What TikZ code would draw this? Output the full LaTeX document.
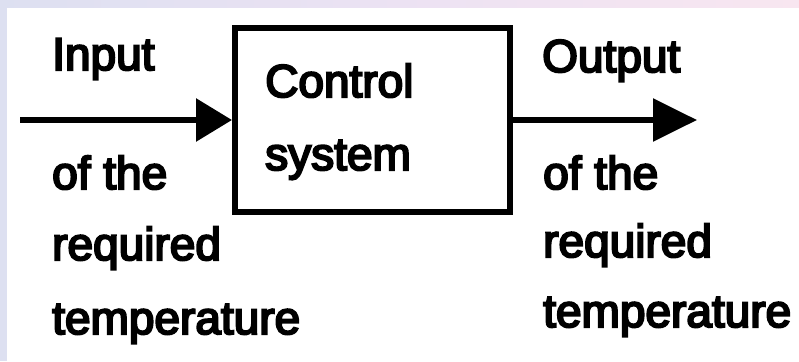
\documentclass[tikz,border=0pt]{standalone}
\usepackage{fontspec}
% slightly heavier sans for the labels
\font\labelfont="Liberation Sans:embolden=4.5" at 46pt
\usetikzlibrary{arrows.meta}

\definecolor{frameblue}{HTML}{DDE0F1}
\definecolor{framelilac}{HTML}{ECE2F3}
\definecolor{framepink}{HTML}{F8E6F0}

\tikzset{
  lbl/.style={anchor=base west, inner sep=0pt, font=\labelfont},
  blockbox/.style={draw, line width=6pt, minimum width=275pt, minimum height=184pt, inner sep=0pt},
  flow/.style={line width=6pt, -{Triangle[length=#1, width=42pt]}},
}

\begin{document}
\begin{tikzpicture}[x=1pt, y=-1pt]
  \useasboundingbox (0,0) rectangle (799,361);
  % page frame: tinted strips along the top and left edges
  \fill[frameblue] (0,0) rectangle (799,361);
  \shade[left color=frameblue, right color=framepink, middle color=framelilac] (0,0) rectangle (799,8);
  \fill[white] (7,8) rectangle (799,361);

  % the block
  \node[blockbox] (box) at (372.5,120) {};
  \node[lbl] (ctrl) at (265,97) {Control};
  \node[lbl] (sys) at (265,170) {system};

  % signal ends
  \coordinate (inStart) at (20,120);
  \coordinate (outEnd) at (697,120);

  \draw[flow=36pt] (inStart) -- (box.west);
  \draw[flow=44pt] (box.east) -- (outEnd);

  % input labels
  \node[lbl] (inTop) at (52,70) {Input};
  \node[lbl] (inOf) at (52,189) {of the};
  \node[lbl] (inReq) at (52,260) {required};
  \node[lbl] (inTemp) at (52,334) {temperature};

  % output labels
  \node[lbl] (outTop) at (542,72) {Output};
  \node[lbl] (outOf) at (543,189) {of the};
  \node[lbl] (outReq) at (543,257) {required};
  \node[lbl] (outTemp) at (543,327) {temperature};
\end{tikzpicture}
\end{document}
